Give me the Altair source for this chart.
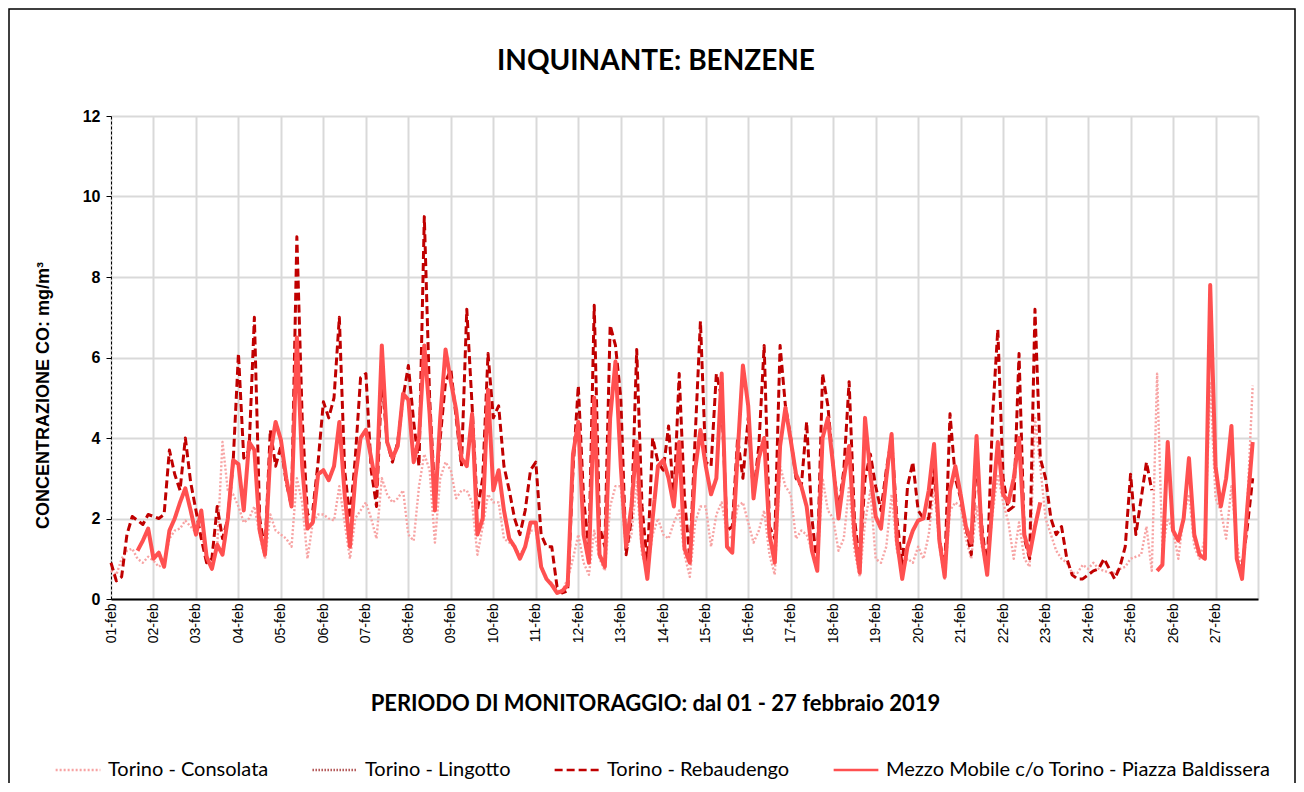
import json
import altair as alt
import pandas as pd

# ---------------- data (3-hourly readings, mg/m3) ----------------
day_labels = ["%02d-feb" % d for d in range(1, 28)]
series_names = [
    "Torino - Consolata",
    "Torino - Lingotto",
    "Torino - Rebaudengo",
    "Mezzo Mobile c/o Torino - Piazza Baldissera",
]
chart_title = "INQUINANTE: BENZENE"
N = None

consolata = [
    0.7, 0.6, 1.0, 1.2, 1.25, 1.0, 0.9, 1.05,
    0.95, 0.8, 0.9, 1.5, 1.7, 1.75, 1.95, 1.8,
    1.65, 1.6, 1.1, 0.75, 1.3, 3.9, 2.7, 2.6,
    2.3, 1.9, 2.0, 2.3, 1.6, 1.0, 2.1, 1.7,
    1.6, 1.5, 1.3, 3.0, 2.4, 1.0, 1.9, 2.1,
    2.1, 2.0, 1.95, 2.8, 1.9, 1.0, 2.0, 2.2,
    2.4, 2.0, 1.5, 3.0, 2.6, 2.4, 2.5, 2.7,
    1.6, 1.45, 2.8, 3.6, 3.2, 1.4, 3.0, 3.4,
    3.2, 2.5, 2.7, 2.7, 2.4, 1.1, 1.8, 2.6,
    2.4, 2.4, 1.5, 1.4, 1.3, 1.1, 1.3, 1.7,
    1.7, 0.8, 0.5, 0.4, 0.2, 0.2, 0.5, 1.0,
    1.6, 0.9, 0.6, 1.7, 1.0, 0.7, 2.3, 2.8,
    2.8, 1.2, 1.6, 2.9, 1.1, 0.7, 1.6, 2.0,
    1.6, 1.5, 1.9, 2.2, 1.1, 0.55, 1.9, 2.3,
    2.3, 1.3, 2.1, 2.4, 1.6, 1.5, 2.3, 2.4,
    1.9, 1.4, 1.7, 2.2, 1.1, 0.6, 3.3, 2.8,
    2.6, 1.5, 1.7, 1.6, 1.2, 0.8, 3.0, 2.2,
    2.0, 1.2, 1.5, 2.8, 1.2, 0.55, 1.9, 2.7,
    1.0, 0.9, 1.3, 2.6, 1.2, 0.8, 1.0, 0.9,
    1.3, 1.0, 1.6, 2.8, 1.3, 0.5, 2.2, 2.4,
    2.3, 1.5, 1.0, 2.3, 1.3, 0.75, 2.1, 3.1,
    2.4, 1.9, 1.0, 1.9, 1.0, 0.8, 4.5, 3.3,
    2.0, 1.6, 1.2, 1.0, 0.9, 0.65, 0.65, 0.85,
    0.75, 0.9, 0.75, 0.7, 0.65, 0.65, 0.75, 0.8,
    1.0, 1.05, 1.1, 1.8, 0.7, 5.6, 1.2, 2.0,
    1.7, 1.0, 2.1, 2.6, 1.3, 1.0, 1.5, 5.4,
    2.5, 2.2, 1.5, 2.8, 1.4, 0.6, 2.4, 5.3,
]

lingotto = []

rebaudengo = [
    0.9, 0.45, 0.55, 1.6, 2.05, 1.95, 1.85, 2.1,
    2.05, 2.0, 2.1, 3.7, 3.1, 2.7, 4.0, 2.9,
    2.2, 1.5, 0.9, 1.0, 2.3, 1.5, 2.0, 3.4,
    6.1, 3.5, 3.7, 7.0, 2.0, 1.2, 4.2, 3.3,
    3.8, 2.9, 2.3, 9.0, 4.5, 2.1, 2.2, 3.4,
    4.9, 4.5, 5.0, 7.0, 3.2, 2.0, 3.5, 5.5,
    5.6, 3.2, 2.3, 5.5, 3.9, 3.4, 3.9, 5.0,
    5.8, 4.4, 3.3, 9.5, 5.0, 2.5, 4.0, 5.4,
    5.7, 4.5, 3.3, 7.2, 4.8, 2.2, 3.0, 6.1,
    4.5, 4.8, 3.3, 2.7, 2.0, 1.6, 2.2, 3.2,
    3.4, 1.6, 1.3, 1.3, 0.3, 0.15, 0.2, 3.2,
    5.3, 2.5, 1.2, 7.3, 1.8, 1.3, 6.8, 6.3,
    5.0, 1.1, 2.0, 6.2, 2.3, 0.85, 4.0, 3.4,
    3.2, 4.3, 2.4, 5.6, 2.5, 1.0, 4.0, 6.9,
    3.4, 3.3, 5.6, 5.0, 1.7, 1.8, 4.0, 3.0,
    4.5, 2.6, 3.8, 6.3, 1.8, 1.5, 6.3, 4.8,
    4.0, 3.0, 2.8, 4.4, 2.0, 0.8, 5.6, 4.8,
    3.3, 2.2, 3.2, 5.4, 2.0, 0.9, 3.0, 3.6,
    2.8, 2.2, 3.2, 4.0, 2.0, 0.8, 2.8, 3.4,
    2.2, 2.0, 2.0, 3.3, 1.5, 0.7, 4.6, 3.0,
    2.5, 1.8, 1.1, 3.5, 1.8, 0.7, 4.5, 6.7,
    3.0, 2.2, 2.3, 6.1, 1.5, 1.0, 7.2, 3.5,
    3.0, 2.0, 1.6, 1.8, 1.0, 0.6, 0.5, 0.5,
    0.6, 0.7, 0.75, 1.0, 0.75, 0.5, 0.8, 1.3,
    3.1, 1.6, 2.5, 3.4, 2.7, N, N, N,
    N, N, N, N, N, N, N, N,
    N, N, N, N, N, 0.8, 1.8, 3.0,
]

mezzo = [
    N, N, N, N, N, 1.2, 1.45, 1.75,
    1.0, 1.15, 0.8, 1.7, 2.0, 2.4, 2.75, 2.2,
    1.6, 2.2, 1.05, 0.75, 1.35, 1.1, 2.0, 3.45,
    3.35, 2.2, 3.9, 3.7, 1.7, 1.1, 3.6, 4.4,
    3.95, 3.0, 2.3, 6.5, 3.3, 1.75, 1.9, 3.1,
    3.2, 2.95, 3.3, 4.4, 2.6, 1.3, 3.0, 4.0,
    4.2, 3.5, 2.8, 6.3, 3.9, 3.5, 3.8, 5.1,
    4.95, 3.4, 4.0, 6.3, 4.6, 2.2, 4.5, 6.2,
    5.4, 4.7, 3.5, 3.3, 4.6, 1.6, 2.0, 5.2,
    2.7, 3.2, 2.2, 1.5, 1.3, 1.0, 1.3, 1.9,
    1.9, 0.8, 0.5, 0.35, 0.15, 0.2, 0.35, 3.6,
    4.4, 1.6, 0.9, 5.0, 1.1, 0.8, 4.5, 5.9,
    3.3, 1.3, 2.3, 3.9, 1.4, 0.5, 2.0, 3.3,
    3.45, 3.0, 2.3, 3.9, 1.25, 0.9, 3.2, 4.2,
    3.3, 2.6, 3.0, 5.6, 1.3, 1.15, 3.6, 5.8,
    4.8, 2.5, 3.5, 4.0, 1.6, 0.9, 3.8, 4.75,
    3.95, 3.1, 2.8, 2.3, 1.2, 0.7, 4.0, 4.5,
    3.3, 2.0, 3.0, 3.8, 1.6, 0.65, 4.5, 3.1,
    2.05, 1.75, 3.0, 4.1, 1.45, 0.5, 1.3, 1.7,
    1.95, 2.0, 2.7, 3.85, 1.45, 0.55, 2.7, 3.3,
    2.6, 1.8, 1.4, 4.05, 1.5, 0.6, 2.4, 3.9,
    2.6, 2.4, 3.0, 4.0, 1.6, 1.1, 1.8, 2.4,
    N, N, N, N, N, N, N, N,
    N, N, N, N, N, N, N, N,
    N, N, N, N, N, 0.7, 0.85, 3.9,
    1.7, 1.45, 2.0, 3.5, 1.6, 1.1, 1.0, 7.8,
    3.3, 2.3, 3.0, 4.3, 1.0, 0.5, 2.3, 3.9,
]

colors = ["#F7A3A3", "#8B0000", "#C00000", "#FF5050"]
dashes = [[2, 2], [1, 2], [8, 4], [1, 0]]
widths = [2.4, 1.5, 3.0, 4.0]
steps_per_day = 8

# ---------------- build table ----------------
rows = []
for name, vals in zip(series_names, [consolata, lingotto, rebaudengo, mezzo]):
    seg = 0
    gap = True
    for i, v in enumerate(vals):
        if v is None:
            gap = True
            continue
        if gap:
            seg += 1
            gap = False
        rows.append({"serie": name, "t": i / steps_per_day, "v": v, "seg": f"{name}#{seg}"})
df = pd.DataFrame(rows)

label_expr = "datum.value < %d ? %s[datum.value] : ''" % (len(day_labels), json.dumps(day_labels))

legend = alt.Legend(
    title=None, orient="none", direction="horizontal", legendX=-57, legendY=630,
    symbolType="stroke", symbolSize=2000, symbolStrokeWidth=2.5,
    labelFont="Lato", labelFontSize=20, labelColor="black",
    columnPadding=38, labelOffset=6, labelLimit=700,
)

x_enc = alt.X(
    "t:Q",
    scale=alt.Scale(domain=[0, 27], nice=False, zero=False),
    axis=alt.Axis(
        values=list(range(28)), labelExpr=label_expr, labelAngle=270,
        labelFont="Liberation Sans", labelFontSize=14, labelColor="black",
        labelPadding=4, ticks=False, grid=True, gridColor="#D9D9D9", gridWidth=2,
        domainColor="black", domainWidth=2,
        title="PERIODO DI MONITORAGGIO: dal 01 - 27 febbraio 2019",
        titleFont="Lato", titleFontSize=22, titleFontWeight="bold", titleColor="black",
        titlePadding=51, titleX=544, titleAlign="center",
        labelOverlap=False, labelFlush=False,
    ),
)
y_enc = alt.Y(
    "v:Q",
    scale=alt.Scale(domain=[0, 12], nice=False),
    axis=alt.Axis(
        values=[0, 2, 4, 6, 8, 10, 12], format="d", grid=True, gridColor="#D9D9D9",
        gridWidth=2, domainColor="black", domainDash=[3, 2], domainWidth=1,
        tickColor="black", tickSize=5, labelFont="Liberation Sans", labelFontSize=16,
        labelFontWeight="bold", labelColor="black", labelPadding=6,
        title="CONCENTRAZIONE CO: mg/m³", titleFont="Liberation Sans",
        titleFontSize=18, titleFontWeight="bold", titleColor="black", titlePadding=30,
        titleY=279, titleAlign="center",
    ),
)
enc = dict(
    x=x_enc,
    y=y_enc,
    color=alt.Color("serie:N", scale=alt.Scale(domain=series_names, range=colors), legend=legend),
    strokeDash=alt.StrokeDash("serie:N", scale=alt.Scale(domain=series_names, range=dashes), legend=legend),
    detail=alt.Detail("seg:N"),
)

base = alt.Chart(df)
layers = []
for name, w in zip(series_names, widths):
    if (df["serie"] == name).any():
        layers.append(
            base.transform_filter(alt.datum.serie == name)
            .mark_line(strokeWidth=w, strokeJoin="round")
            .encode(**enc)
        )

one = pd.DataFrame({"k": [0]})
frame = alt.Chart(one).mark_rect(
    fillOpacity=0, stroke="black", strokeWidth=1.5
).encode(x=alt.value(-102), x2=alt.value(1184), y=alt.value(-107), y2=alt.value(720))

title_text = alt.Chart(one).mark_text(
    font="Lato", fontSize=28, fontWeight="bold", color="black", align="center", baseline="middle"
).encode(x=alt.value(545), y=alt.value(-54), text=alt.value(chart_title))

chart = alt.layer(*layers, frame, title_text).properties(
    width=1147, height=483,
    autosize=alt.AutoSizeParams(type="none"),
    padding={"left": 103, "top": 108, "right": 38, "bottom": 184},
).configure_view(stroke=None).configure(background="white")

chart.save("out.html", embed_options={"renderer": "svg", "actions": False})
